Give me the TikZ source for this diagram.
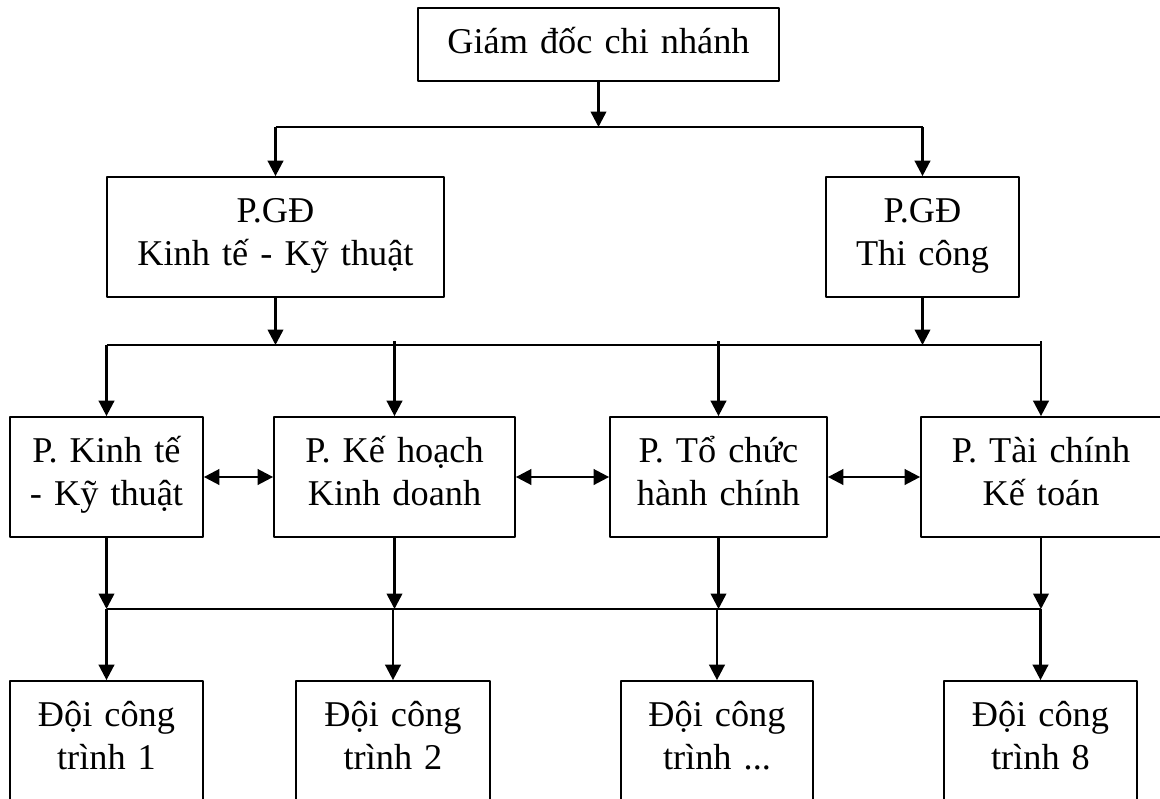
\documentclass[tikz,border=0pt]{standalone}
\usepackage{fontspec}
\newfontfamily\tnr{Liberation Serif}
\usetikzlibrary{arrows.meta}
\begin{document}
\begin{tikzpicture}[x=0.025cm, y=-0.025cm, line join=round, >={Triangle[length=11pt,width=11pt]},
  khung/.style={draw, line width=1.2pt, inner sep=0pt, align=center, text width=#1,
    text height=1.125cm, text depth=1.875cm, font=\tnr\fontsize{25.8}{30.6}\selectfont},
  mui/.style={->, line width=1.8pt},
  ngang/.style={line width=1.3pt}]
\useasboundingbox (0,0) rectangle (1160,798);
\clip (0,0) rectangle (1160,798);
\coordinate (h1) at (0,127); \coordinate (h2) at (0,345);
\coordinate (h2t) at (0,341); \coordinate (h3) at (0,609);
% cac o
\node[khung=9.025cm, text depth=0.7cm] (gd) at (598.5,44.5) {Giám đốc chi nhánh};
\node[khung=8.425cm] (pgdkt) at (275.5,237) {P.GĐ\\Kinh tế - Kỹ thuật};
\node[khung=4.825cm] (pgdtc) at (922.5,237) {P.GĐ\\Thi công};
\node[khung=4.825cm] (b1) at (106.5,477) {P. Kinh tế\\- Kỹ thuật};
\node[khung=6.025cm] (b2) at (394.5,477) {P. Kế hoạch\\Kinh doanh};
\node[khung=5.425cm] (b3) at (718.5,477) {P. Tổ chức\\hành chính};
\node[khung=6cm] (b4) at (1041,477) {P. Tài chính\\Kế toán};
\node[khung=4.825cm] (c1) at (106.5,741) {Đội công\\trình 1};
\node[khung=4.85cm] (c2) at (393,741) {Đội công\\trình 2};
\node[khung=4.8cm] (c3) at (717,741) {Đội công\\trình ...};
\node[khung=4.825cm] (c4) at (1040.5,741) {Đội công\\trình 8};
% cac duong noi
\draw[mui] (gd.south) -- (gd.south |- h1);
\draw[ngang] (pgdkt.north |- h1) -- (pgdtc.north |- h1);
\draw[mui] (pgdkt.north |- h1) -- (pgdkt.north);
\draw[mui] (pgdtc.north |- h1) -- (pgdtc.north);
\draw[mui] (pgdkt.south) -- (pgdkt.south |- h2);
\draw[mui] (pgdtc.south) -- (pgdtc.south |- h2);
\draw[ngang] (b1.north |- h2) -- (b4.north |- h2);
\draw[mui] (b1.north |- h2) -- (b1.north);
\foreach \n in {b2,b3,b4} \draw[mui] (\n.north |- h2t) -- (\n.north);
\foreach \a/\b in {b1/b2,b2/b3,b3/b4} \draw[mui,<->] (\a.east) -- (\b.west);
\foreach \n in {b1,b2,b3,b4} \draw[mui] (\n.south) -- (\n.south |- h3);
\draw[ngang] (b1.south |- h3) -- (b4.south |- h3);
\foreach \m in {c1,c2,c3,c4} \draw[mui] (\m.north |- h3) -- (\m.north);
\end{tikzpicture}
\end{document}
